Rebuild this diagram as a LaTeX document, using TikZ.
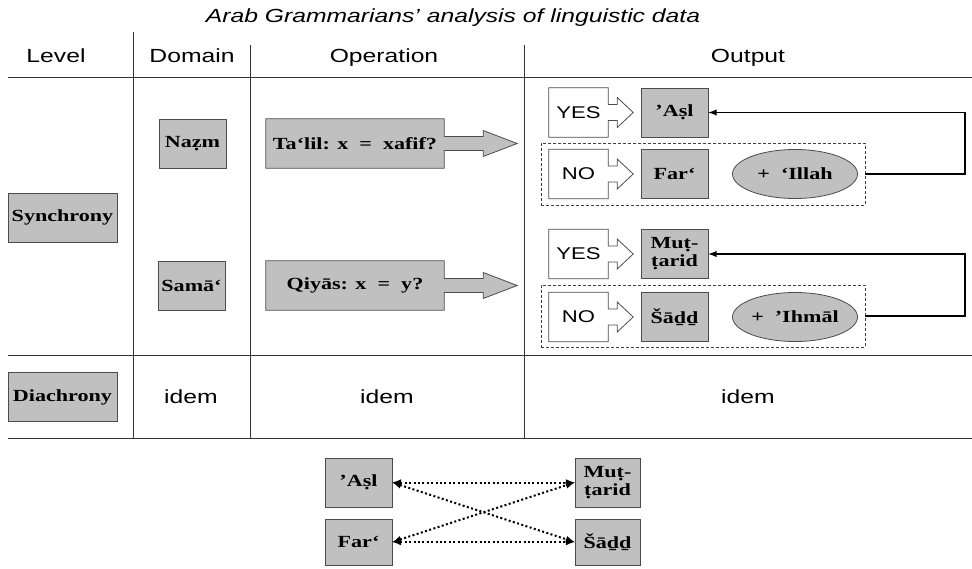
\documentclass[tikz,border=0pt]{standalone}
\usepackage{fontspec}
\setmainfont{Liberation Serif}[FakeStretch=1.3]
\setsansfont{Liberation Sans}[FakeStretch=1.3]
\usetikzlibrary{arrows}
\usetikzlibrary{calc}
\usetikzlibrary{backgrounds}
\usepgflibrary{shapes.geometric}
\definecolor{boxgray}{RGB}{192,192,192}
\newcommand{\yescallout}[1]{%
  \path[outl] (#1.north west) -- (#1.north east) -- ([yshift=8pt]#1.east) -- ([shift={(9pt,8pt)}]#1.east)
    -- ([shift={(9pt,15pt)}]#1.east) -- ([xshift=25pt]#1.east) -- ([shift={(9pt,-15pt)}]#1.east)
    -- ([shift={(9pt,-8pt)}]#1.east) -- ([yshift=-8pt]#1.east) -- (#1.south east) -- (#1.south west) -- cycle;}
\newcommand{\opcallout}[1]{%
  \path[garrow] (#1.north west) -- (#1.north east) -- ([yshift=7pt]#1.east) -- ([shift={(39pt,7pt)}]#1.east)
    -- ([shift={(39pt,13pt)}]#1.east) -- ([xshift=73pt]#1.east) -- ([shift={(39pt,-13pt)}]#1.east)
    -- ([shift={(39pt,-7pt)}]#1.east) -- ([yshift=-7pt]#1.east) -- (#1.south east) -- (#1.south west) -- cycle;}
\tikzset{
  rule/.style={draw=black!80, line width=0.8pt},
  ttl/.style={font=\sffamily\itshape\fontsize{19}{22}\selectfont},
  hd/.style={font=\sffamily\fontsize{19}{22}\selectfont},
  gbox/.style={draw=black!70, line width=0.8pt, fill=boxgray, inner sep=0pt, minimum height=49pt,
    align=center, font=\bfseries\fontsize{17}{18}\selectfont},
  opbox/.style={inner sep=0pt, minimum width=178pt, minimum height=49pt, font=\bfseries\fontsize{17}{18}\selectfont},
  yn/.style={inner sep=0pt, minimum width=59pt, minimum height=49pt, font=\sffamily\fontsize{17}{19}\selectfont},
  gell/.style={ellipse, draw=black!70, line width=0.8pt, fill=boxgray, inner sep=0pt, minimum width=125pt,
    minimum height=49pt, font=\bfseries\fontsize{17}{18}\selectfont},
  dbox/.style={draw=black!75, line width=0.7pt, dash pattern=on 3pt off 2pt, minimum width=324pt, minimum height=62pt},
  outl/.style={draw=black!70, line width=0.8pt, fill=white},
  garrow/.style={draw=black!70, line width=0.8pt, fill=boxgray},
  fb/.style={-latex, line width=1.8pt},
  dots/.style={latex-latex, line width=2pt, dash pattern=on 2pt off 2.4pt}
}
\begin{document}
\begin{tikzpicture}[x=1pt,y=-1pt]
  \useasboundingbox (0,0) rectangle (972,568);
  \node[ttl, anchor=base] (title) at (453,22) {Arab Grammarians’ analysis of linguistic data};

  \draw[rule] (8,77) -- (972,77);
  \draw[rule] (8,355) -- (972,355);
  \draw[rule] (8,438) -- (972,438);
  \draw[rule] (133,32) -- (133,438);
  \draw[rule] (250,45) -- (250,438);
  \draw[rule] (524,45) -- (524,438);

  \node[hd, anchor=base] (hlevel) at (56,62) {Level};
  \node[hd, anchor=base] (hdomain) at (192,62) {Domain};
  \node[hd, anchor=base] (hoper) at (384,62) {Operation};
  \node[hd, anchor=base] (hout) at (748,62) {Output};

  \node[gbox, minimum width=109pt] (synchrony) at (62.5,217.5) {Synchrony};
  \node[gbox, minimum width=109pt] (diachrony) at (62.5,397) {Diachrony};

  \node[gbox, minimum width=67pt] (nazm) at (192.5,143.5) {Naẓm};
  \node[gbox, minimum width=67pt] (sama) at (191.5,285.5) {Samā‘};

  \node[opbox] (talil) at (355,143.5) {Ta‘lil: x~ = ~xafif?};
  \node[opbox] (qiyas) at (355,285.5) {Qiyās: x~ = ~y?};

  \node[yn] (yes1) at (578.5,112.5) {YES};
  \node[gbox, minimum width=67pt] (asl1) at (674.5,112.5) {’Aṣl};
  \node[dbox] (nobox1) at (703,174) {};
  \node[yn] (no1) at (578.5,174) {NO};
  \node[gbox, minimum width=67pt] (far1) at (674.5,174) {Far‘};
  \node[gell] (illah) at (795,174) {+~ ‘Illah};

  \node[yn] (yes2) at (578.5,254) {YES};
  \node[gbox, minimum width=67pt] (mut1) at (674.5,254) {Muṭ-\\ṭarid};
  \node[dbox] (nobox2) at (703,316) {};
  \node[yn] (no2) at (578.5,317) {NO};
  \node[gbox, minimum width=67pt] (sadd1) at (674.5,317) {Šāḏḏ};
  \node[gell] (ihmal) at (795,317) {+~ ’Ihmāl};

  \draw[fb] (nobox1.east) -- ++(100,0) |- (asl1.east);
  \draw[fb] (nobox2.east) -- ++(100,0) |- (mut1.east);

  \begin{scope}[on background layer]
    \yescallout{yes1}
    \yescallout{no1}
    \yescallout{yes2}
    \yescallout{no2}
    \opcallout{talil}
    \opcallout{qiyas}
  \end{scope}

  \node[hd] (idem1) at (191,397) {idem};
  \node[hd] (idem2) at (387,397) {idem};
  \node[hd] (idem3) at (748,397) {idem};

  \node[gbox, minimum width=67pt] (asl2) at (358.5,482.5) {’Aṣl};
  \node[gbox, minimum width=65pt] (mut2) at (607.5,482.5) {Muṭ-\\ṭarid};
  \node[gbox, minimum width=67pt, minimum height=46pt] (far2) at (358.5,542) {Far‘};
  \node[gbox, minimum width=65pt, minimum height=46pt] (sadd2) at (607.5,542) {Šāḏḏ};

  \draw[dots] (asl2.east) -- (mut2.west);
  \draw[dots] (far2.east) -- (sadd2.west);
  \draw[dots] (asl2.east) -- (sadd2.west);
  \draw[dots] (far2.east) -- (mut2.west);
\end{tikzpicture}
\end{document}
